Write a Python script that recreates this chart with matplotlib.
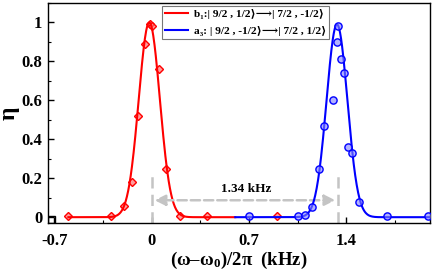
import numpy as np
import matplotlib
matplotlib.use('Agg')
import matplotlib.pyplot as plt
from matplotlib.ticker import MultipleLocator

plt.rcParams['font.family'] = ['Liberation Serif', 'DejaVu Serif', 'DejaVu Sans']
plt.rcParams['font.weight'] = 'bold'
plt.rcParams['mathtext.fontset'] = 'custom'
plt.rcParams['mathtext.rm'] = 'Liberation Serif:bold'
plt.rcParams['mathtext.it'] = 'Liberation Serif:italic:bold'
plt.rcParams['mathtext.bf'] = 'Liberation Serif:bold'

# measured points, b1 transition (red diamonds)
b1_x = [-0.60, -0.29, -0.20, -0.145, -0.10, -0.05, -0.014, 0.0, 0.05, 0.10, 0.20, 0.40, 0.90]
b1_y = [0.005, 0.005, 0.055, 0.18, 0.52, 0.89, 0.99, 0.98, 0.76, 0.25, 0.005, 0.005, 0.005]

# measured points, a3 transition (blue circles)
a3_x = [0.70, 1.05, 1.10, 1.15, 1.20, 1.24, 1.30, 1.33, 1.34, 1.36, 1.385, 1.41, 1.44, 1.49, 1.69, 1.99]
a3_y = [0.005, 0.005, 0.01, 0.05, 0.25, 0.47, 0.60, 0.90, 0.98, 0.81, 0.74, 0.36, 0.33, 0.08, 0.005, 0.005]

# gaussian fit parameters (center, width, amplitude) and plotted range
b1_fit = (-0.018, 0.076, 1.0)
b1_range = (-0.60, 0.60)
a3_fit = (1.332, 0.075, 0.99)
a3_range = (0.60, 2.0)

splitting = 1.34
labels = ['b₁:| 9/2 , 1/2⟩⟶| 7/2 , -1/2⟩',
          'a₃: | 9/2 , -1/2⟩⟶| 7/2 , 1/2⟩']


def gauss(x, fit):
    c, s, a = fit
    return a * np.exp(-(x - c) ** 2 / (2 * s ** 2))


fig = plt.figure(figsize=(4.32, 2.71), dpi=100)
ax = fig.add_axes([0.111, 0.177, 0.884, 0.812])

xr = np.linspace(*b1_range, 400)
xb = np.linspace(*a3_range, 400)
ax.plot(xr, gauss(xr, b1_fit), color='red', lw=1.5, label=labels[0], zorder=3)
ax.plot(b1_x, b1_y, 'D', ms=4.5, mfc=(1, 0.45, 0.45, 0.7), mec='red', mew=1.0, zorder=2)
ax.plot(xb, gauss(xb, a3_fit), color='blue', lw=1.5, label=labels[1], zorder=4)
ax.plot(a3_x, a3_y, 'o', ms=5.2, mfc=(0.5, 0.5, 1, 0.6), mec='blue', mew=1.0, zorder=5)

# splitting marker
gray = '#c4c4c4'
ax.plot([0, 0], [-0.03, 0.21], color=gray, lw=1.8, dashes=(4.5, 2.5))
ax.plot([splitting, splitting], [-0.03, 0.21], color=gray, lw=1.8, dashes=(4.5, 2.5))
ax.annotate('', xy=(0.0, 0.087), xytext=(splitting, 0.087),
            arrowprops=dict(arrowstyle='<|-|>', color=gray, lw=1.8, ls='--',
                            mutation_scale=16))
ax.text(0.68, 0.145, '1.34 kHz', ha='center', va='center', fontsize=9.5, fontweight='bold')

# little box at origin corner
ax.add_patch(plt.Rectangle((0, 0), 0.018, 0.03, transform=ax.transAxes,
                           fill=False, lw=1.0, color='black', zorder=6))

ax.set_xlim(-0.747, 2.0)
ax.set_ylim(-0.03, 1.1)
ax.xaxis.set_minor_locator(MultipleLocator(0.35))
ax.yaxis.set_minor_locator(MultipleLocator(0.1))
ax.set_xticks([-0.7, 0, 0.7, 1.4])
ax.set_xticklabels(['-0.7', '0', '0.7', '1.4'])
ax.set_yticks([0, 0.2, 0.4, 0.6, 0.8, 1.0])
ax.set_yticklabels(['0', '0.2', '0.4', '0.6', '0.8', '1'])
ax.tick_params(which='major', direction='in', length=4, width=1.0, labelsize=12)
ax.tick_params(axis='x', which='major', pad=7)
ax.tick_params(axis='y', which='major', pad=4)
ax.tick_params(which='minor', direction='in', length=2.5, width=0.8)
for sp in ax.spines.values():
    sp.set_linewidth(1.0)

ax.set_xlabel(r'(ω–ω$_0$)/2π  (kHz)', fontsize=13.5, fontweight='bold', labelpad=1)
ax.set_ylabel('η', fontsize=17, fontweight='bold', labelpad=1)

leg = ax.legend(loc='upper left', bbox_to_anchor=(0.298, 0.988), fontsize=8.2,
                frameon=True, fancybox=False, edgecolor='#555555', handlelength=2.0,
                borderpad=0.3, borderaxespad=0, labelspacing=0.6, handletextpad=0.5)
leg.get_frame().set_linewidth(0.8)

fig.savefig('out.png', dpi=100)
